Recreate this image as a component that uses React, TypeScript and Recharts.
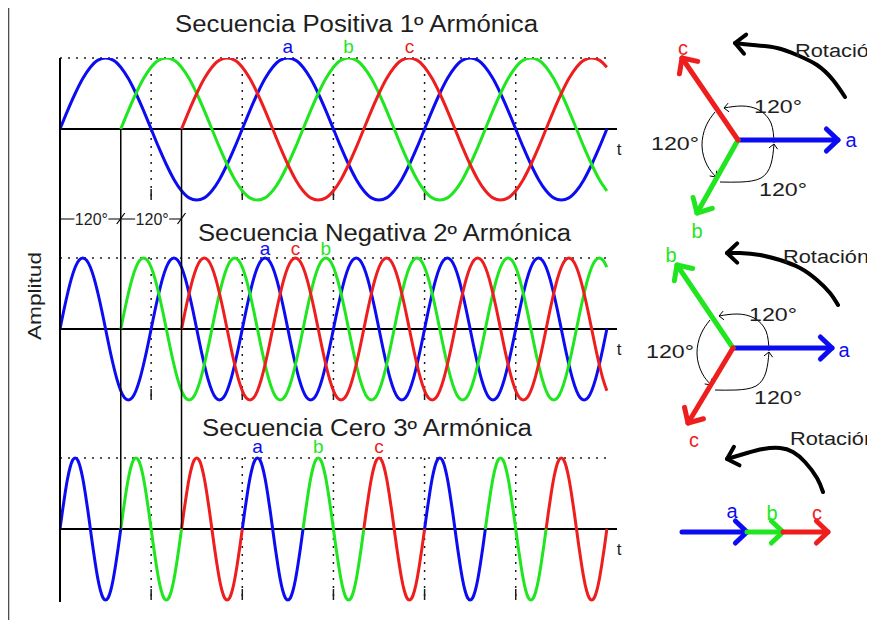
import React from 'react';
import { LineChart, Line, XAxis, YAxis, ReferenceLine, ReferenceDot } from 'recharts';

type Pt = [number, number];

const FONT = '"Liberation Sans", Arial, sans-serif';
const INK = '#1e1e1e';

// one period of the unit waveform, sampled every 15 degrees
const waveCycle = [
  0, 0.26, 0.5, 0.71, 0.87, 0.97, 1, 0.97, 0.87, 0.71, 0.5, 0.26,
  0, -0.26, -0.5, -0.71, -0.87, -0.97, -1, -0.97, -0.87, -0.71, -0.5, -0.26,
];
const cycleStep = 15;

const phaseKeys = ['a', 'b', 'c'];
const phaseColors = ['#0c0cf2', '#1fe61f', '#ee1e1e'];
const phaseStart = [0, 120, 240];

const panelHarmonic = [1, 2, 3];
const panelTitles = [
  'Secuencia Positiva 1º Armónica',
  'Secuencia Negativa 2º Armónica',
  'Secuencia Cero 3º Armónica',
];
// zero sequence: the three identical waves take turns every 120 degrees
const panelTakesTurns = [false, false, true];
const turnWindow = 120;
// where the a / b / c tags sit (degrees of the fundamental)
const panelPeakTags = [
  [450, 570, 690],
  [405, 525, 465],
  [390, 510, 630],
];

const tEnd = 1080;
const tAxisMax = 1100;
const gridT = [180, 360, 540, 720, 900];
const spacingMarks: Pt[] = [[0, 120], [120, 240]];

// phasor diagrams, px-sized units, tail at the origin, y pointing up
const posSeqTips: Pt[] = [[100, 0], [-41, -73], [-56, 82]];
const negSeqTips: Pt[] = [[99, 0], [-56, 83], [-45, -75]];
const zeroSeqChain = [0, 65, 101, 146];
const posSeqTagAt: Pt[] = [[113, -7], [-41, -98], [-55, 85]];
const negSeqTagAt: Pt[] = [[111, -9], [-62, 86], [-39, -99]];
const zeroSeqTagAt: Pt[] = [[50, 14], [90, 12], [135, 12]];

const angleArcs: Pt[][] = [
  [[36, -3], [33, 17], [21, 30], [4, 34], [-14, 32]],
  [[-23, 28], [-32, 14], [-36, -6], [-31, -25], [-22, -37]],
  [[-18, -42], [3, -42], [23, -38], [33, -24], [36, -4]],
];
const angleTagAt: Pt[] = [[16, 27], [-87, -10], [21, -56]];

const rotationPaths: Pt[][] = [
  [[107, 43], [95, 60], [79, 75], [59, 85], [39, 92], [15, 95], [-3, 97]],
  [[105, 43], [97, 55], [84, 68], [67, 80], [47, 88], [27, 93], [7, 95], [-6, 95]],
  [[141, 40], [135, 54], [123, 70], [111, 80], [98, 84], [81, 83], [65, 79], [45, 73]],
];
const rotationTagAt: Pt[] = [[57, 83], [50, 85], [108, 87]];

// layout
const W = 875;
const H = 628;
const PLOT = { left: 60, right: 617, top: 58, bottom: 602 };
const panelTop = [58, 258, 458];
const peakTagLift = [5, 3, 5];
const AMP = 71;
const spanLinePx = 219;
const tickLen = 11 / AMP;

const titleLayout = [
  { x: 175, y: 32, len: 363 },
  { x: 198, y: 241, len: 373 },
  { x: 202, y: 436, len: 330 },
];

const panelDomain = (i: number): [number, number] => [
  1 - (PLOT.bottom - panelTop[i]) / AMP,
  1 + (panelTop[i] - PLOT.top) / AMP,
];
const pxToFirstPanel = (px: number) => 1 - (px - panelTop[0]) / AMP;

const panelData = panelHarmonic.map((h, pi) => {
  const step = cycleStep / h;
  const rows: Record<string, number>[] = [];
  for (let k = 0; k * step <= tEnd; k++) {
    const t = k * step;
    const row: Record<string, number> = { t };
    phaseKeys.forEach((key, i) => {
      if (t < phaseStart[i]) return;
      if (panelTakesTurns[pi]) {
        const seg = Math.floor(t / turnWindow);
        const own = seg % 3 === i;
        const closing = t > 0 && t % turnWindow === 0 && (seg + 2) % 3 === i;
        if (!own && !closing) return;
      }
      row[key] = waveCycle[Math.round((t - phaseStart[i]) / step) % waveCycle.length];
    });
    rows.push(row);
  }
  return rows;
});

interface TextSpec {
  text: string;
  size: number;
  fill?: string;
  dx?: number;
  dy?: number;
  anchor?: 'start' | 'middle' | 'end';
  length?: number;
}

const textShape = (s: TextSpec) => (p: any) => (
  <text
    x={p.cx + (s.dx ?? 0)}
    y={p.cy + (s.dy ?? 0)}
    fontSize={s.size}
    fill={s.fill ?? INK}
    textAnchor={s.anchor ?? 'start'}
    fontFamily={FONT}
    textLength={s.length}
    lengthAdjust={s.length ? 'spacingAndGlyphs' : undefined}
  >
    {s.text}
  </text>
);

const arrowShape = (color: string, width: number, head: number, withShaft = true) => (p: any) => {
  const { x1, y1, x2, y2 } = p;
  const ang = Math.atan2(y2 - y1, x2 - x1);
  const spread = 0.76;
  const bx1 = x2 - head * Math.cos(ang - spread);
  const by1 = y2 - head * Math.sin(ang - spread);
  const bx2 = x2 - head * Math.cos(ang + spread);
  const by2 = y2 - head * Math.sin(ang + spread);
  return (
    <g>
      {withShaft && (
        <line x1={x1} y1={y1} x2={x2} y2={y2} stroke={color} strokeWidth={width} strokeLinecap="round" />
      )}
      <polyline
        points={`${bx1},${by1} ${x2},${y2} ${bx2},${by2}`}
        fill="none"
        stroke={color}
        strokeWidth={width}
        strokeLinecap="round"
        strokeLinejoin="round"
      />
    </g>
  );
};

// 120° spacing mark between two phase starts
const spanShape = (label: string) => (p: any) => {
  const { x1, y1, x2 } = p;
  const cx = (x1 + x2) / 2 + 1;
  return (
    <g>
      <line x1={x1} y1={y1} x2={x2} y2={y1} stroke="#000" strokeWidth={1.2} />
      <rect x={cx - 17} y={y1 - 8} width={34} height={15} fill="#fff" />
      <text x={cx} y={y1 + 6} textAnchor="middle" fontSize={16} fontFamily={FONT} fill={INK}>
        {label}
      </text>
      <line x1={x2 - 4} y1={y1 + 5} x2={x2 + 4} y2={y1 - 6} stroke="#000" strokeWidth={1.2} />
    </g>
  );
};

const toRows = (pts: Pt[]) => pts.map(([x, y]) => ({ x, y }));

interface PhasorProps {
  box: { left: number; top: number; width: number; height: number };
  origin: Pt;
  arrows: { from: Pt; to: Pt; color: string }[];
  tags: { at: Pt; text: string; color: string }[];
  arcs: Pt[][];
  rotation: Pt[];
  rotationAt: Pt;
}

const PhasorDiagram: React.FC<PhasorProps> = ({ box, origin, arrows, tags, arcs, rotation, rotationAt }) => {
  const xDomain: [number, number] = [box.left - origin[0], box.left + box.width - origin[0]];
  const yDomain: [number, number] = [origin[1] - box.top - box.height, origin[1] - box.top];
  const lastSeg = (pts: Pt[]) => [
    { x: pts[pts.length - 2][0], y: pts[pts.length - 2][1] },
    { x: pts[pts.length - 1][0], y: pts[pts.length - 1][1] },
  ];
  return (
    <div style={{ position: 'absolute', left: box.left, top: box.top }}>
      <LineChart width={box.width} height={box.height} margin={{ top: 0, right: 0, bottom: 0, left: 0 }}>
        <XAxis type="number" dataKey="x" domain={xDomain} hide allowDataOverflow />
        <YAxis type="number" dataKey="y" domain={yDomain} hide allowDataOverflow />
        {arcs.map((arc, i) => (
          <Line
            key={`arc${i}`}
            data={toRows(arc)}
            dataKey="y"
            type="natural"
            stroke="#000"
            strokeWidth={1}
            dot={false}
            activeDot={false}
            isAnimationActive={false}
          />
        ))}
        {arcs.map((arc, i) => (
          <ReferenceLine
            key={`arch${i}`}
            segment={lastSeg(arc)}
            ifOverflow="visible"
            shape={arrowShape('#000', 1, 6, false)}
          />
        ))}
        <Line
          data={toRows(rotation)}
          dataKey="y"
          type="natural"
          stroke="#000"
          strokeWidth={4}
          strokeLinecap="round"
          dot={false}
          activeDot={false}
          isAnimationActive={false}
        />
        <ReferenceLine segment={lastSeg(rotation)} ifOverflow="visible" shape={arrowShape('#000', 4, 14, false)} />
        {arrows.map((a, i) => (
          <ReferenceLine
            key={`ph${i}`}
            segment={[
              { x: a.from[0], y: a.from[1] },
              { x: a.to[0], y: a.to[1] },
            ]}
            ifOverflow="visible"
            shape={arrowShape(a.color, 5, 16)}
          />
        ))}
        {arcs.length > 0 &&
          angleTagAt.map((at, i) => (
            <ReferenceDot
              key={`ang${i}`}
              x={at[0]}
              y={at[1]}
              r={0}
              ifOverflow="visible"
              shape={textShape({ text: '120°', size: 18, length: 48 })}
            />
          ))}
        {tags.map((t, i) => (
          <ReferenceDot
            key={`tag${i}`}
            x={t.at[0]}
            y={t.at[1]}
            r={0}
            ifOverflow="visible"
            shape={textShape({ text: t.text, size: 20, fill: t.color, anchor: 'middle' })}
          />
        ))}
        <ReferenceDot
          x={rotationAt[0]}
          y={rotationAt[1]}
          r={0}
          ifOverflow="visible"
          shape={textShape({ text: 'Rotación', size: 18, length: 86 })}
        />
      </LineChart>
    </div>
  );
};

const App: React.FC = () => {
  const lines = panelData.flatMap((data, i) =>
    phaseKeys.map((key, j) => (
      <Line
        key={`w${i}${key}`}
        data={data}
        dataKey={key}
        yAxisId={`p${i}`}
        type="monotone"
        stroke={phaseColors[j]}
        strokeWidth={3}
        dot={false}
        activeDot={false}
        isAnimationActive={false}
      />
    ))
  );

  const panelRefs = panelTop.flatMap((_, i) => {
    const y = `p${i}`;
    return [
      <ReferenceLine
        key={`top${i}`}
        yAxisId={y}
        segment={[{ x: 0, y: 1 }, { x: tEnd, y: 1 }]}
        stroke={INK}
        strokeWidth={1.5}
        strokeDasharray="2 6"
        ifOverflow="visible"
      />,
      ...gridT.flatMap((g) => [
        <ReferenceLine
          key={`g${i}-${g}`}
          yAxisId={y}
          segment={[{ x: g, y: 1 }, { x: g, y: -1 }]}
          stroke={INK}
          strokeWidth={1.5}
          strokeDasharray="2 6"
          ifOverflow="visible"
        />,
        <ReferenceLine
          key={`k${i}-${g}`}
          yAxisId={y}
          segment={[{ x: g, y: -1 }, { x: g, y: -1 + tickLen }]}
          stroke={INK}
          strokeWidth={1.5}
          ifOverflow="visible"
        />,
      ]),
      <ReferenceLine key={`z${i}`} yAxisId={y} y={0} stroke="#000" strokeWidth={2} />,
      <ReferenceDot
        key={`t${i}`}
        yAxisId={y}
        x={tAxisMax}
        y={0}
        r={0}
        ifOverflow="visible"
        shape={textShape({ text: 't', size: 17, dx: 2, dy: 26, anchor: 'middle' })}
      />,
      ...panelPeakTags[i].map((t, j) => (
        <ReferenceDot
          key={`pk${i}-${j}`}
          yAxisId={y}
          x={t}
          y={1}
          r={0}
          ifOverflow="visible"
          shape={textShape({
            text: phaseKeys[j],
            size: 19,
            fill: phaseColors[j],
            dy: -peakTagLift[i],
            anchor: 'middle',
          })}
        />
      )),
    ];
  });

  const zeroOfLastPanel = pxToFirstPanel(panelTop[2] + AMP);
  const spanY = pxToFirstPanel(spanLinePx);

  return (
    <div
      style={{
        position: 'relative',
        width: W,
        height: H,
        margin: -8,
        background: '#fff',
        overflow: 'hidden',
        fontFamily: FONT,
      }}
    >
      <div style={{ position: 'absolute', left: 0, top: 0 }}>
        <LineChart
          width={W}
          height={H}
          margin={{ top: PLOT.top, right: W - PLOT.right, bottom: H - PLOT.bottom, left: PLOT.left }}
        >
          <XAxis type="number" dataKey="t" domain={[0, tAxisMax]} hide allowDataOverflow />
          {panelTop.map((_, i) => (
            <YAxis key={`y${i}`} yAxisId={`p${i}`} type="number" domain={panelDomain(i)} hide allowDataOverflow />
          ))}
          {panelRefs}
          {lines}
          <ReferenceLine yAxisId="p0" x={0} stroke="#000" strokeWidth={2} />
          {spacingMarks.map(([, end]) => (
            <ReferenceLine
              key={`con${end}`}
              yAxisId="p0"
              segment={[{ x: end, y: 0 }, { x: end, y: zeroOfLastPanel }]}
              stroke="#000"
              strokeWidth={1.5}
              ifOverflow="visible"
            />
          ))}
          {spacingMarks.map(([start, end]) => (
            <ReferenceLine
              key={`sp${start}`}
              yAxisId="p0"
              segment={[{ x: start, y: spanY }, { x: end, y: spanY }]}
              ifOverflow="visible"
              shape={spanShape('120°')}
            />
          ))}
        </LineChart>
      </div>

      <PhasorDiagram
        box={{ left: 620, top: 20, width: 255, height: 230 }}
        origin={[738, 140]}
        arrows={posSeqTips.map((tip, i) => ({ from: [0, 0] as Pt, to: tip, color: phaseColors[i] }))}
        tags={posSeqTagAt.map((at, i) => ({ at, text: phaseKeys[i], color: phaseColors[i] }))}
        arcs={angleArcs}
        rotation={rotationPaths[0]}
        rotationAt={rotationTagAt[0]}
      />
      <PhasorDiagram
        box={{ left: 620, top: 232, width: 255, height: 225 }}
        origin={[733, 348]}
        arrows={negSeqTips.map((tip, i) => ({ from: [0, 0] as Pt, to: tip, color: phaseColors[i] }))}
        tags={negSeqTagAt.map((at, i) => ({ at, text: phaseKeys[i], color: phaseColors[i] }))}
        arcs={angleArcs}
        rotation={rotationPaths[1]}
        rotationAt={rotationTagAt[1]}
      />
      <PhasorDiagram
        box={{ left: 620, top: 425, width: 255, height: 175 }}
        origin={[682, 532]}
        arrows={phaseKeys.map((_, i) => ({
          from: [zeroSeqChain[i], 0] as Pt,
          to: [zeroSeqChain[i + 1], 0] as Pt,
          color: phaseColors[i],
        }))}
        tags={zeroSeqTagAt.map((at, i) => ({ at, text: phaseKeys[i], color: phaseColors[i] }))}
        arcs={[]}
        rotation={rotationPaths[2]}
        rotationAt={rotationTagAt[2]}
      />

      <svg
        width={W}
        height={H}
        style={{ position: 'absolute', left: 0, top: 0, pointerEvents: 'none' }}
      >
        <path d="M8.5 628 V5 H875" stroke="#4d4d4d" strokeWidth={1.6} fill="none" />
        {panelTitles.map((title, i) => (
          <text
            key={title}
            x={titleLayout[i].x}
            y={titleLayout[i].y}
            fontSize={23}
            fontFamily={FONT}
            fill={INK}
            textLength={titleLayout[i].len}
            lengthAdjust="spacingAndGlyphs"
          >
            {title}
          </text>
        ))}
        <text
          x={41}
          y={296}
          transform="rotate(-90 41 296)"
          textAnchor="middle"
          fontSize={19}
          fontFamily={FONT}
          fill={INK}
          textLength={88}
          lengthAdjust="spacingAndGlyphs"
        >
          Amplitud
        </text>
      </svg>
    </div>
  );
};

export default App;
